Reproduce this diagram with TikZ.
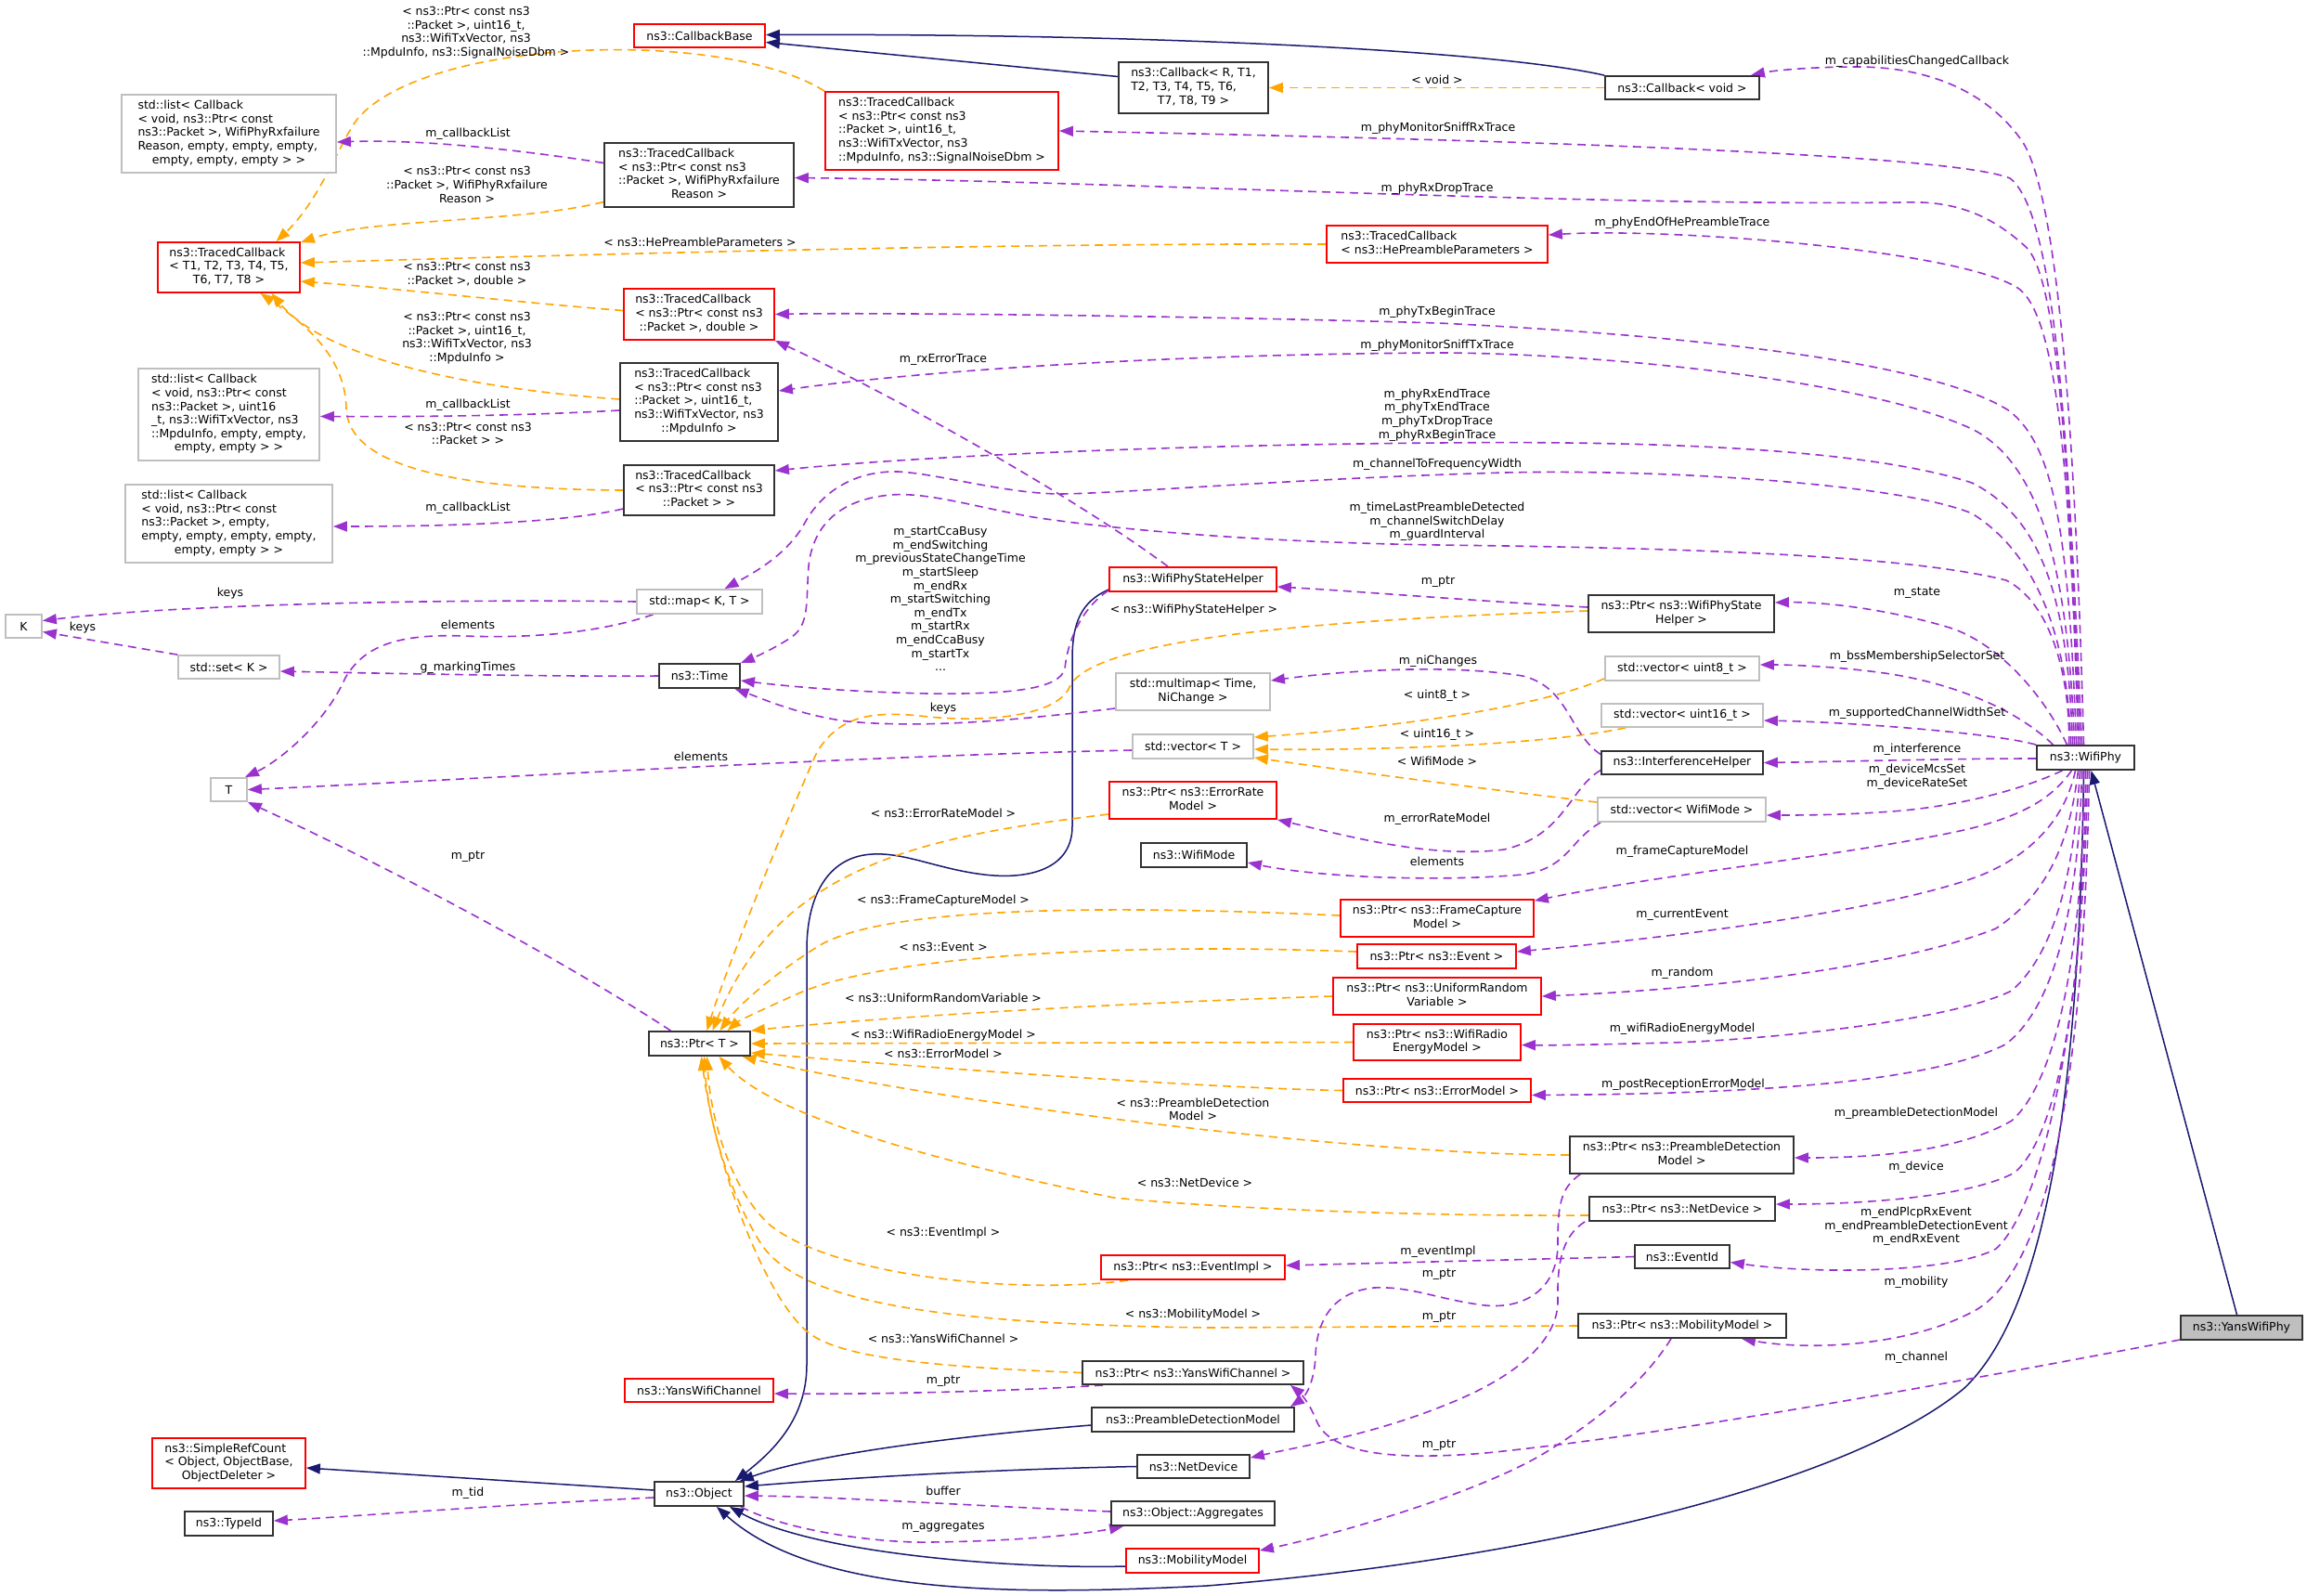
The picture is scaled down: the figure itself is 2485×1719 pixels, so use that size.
\documentclass[tikz,border=0pt]{standalone}
\usepackage{fontspec}
\setmainfont{DejaVu Sans}
\usetikzlibrary{arrows.meta}
\definecolor{usecol}{HTML}{9A32CD}
\definecolor{tmplcol}{HTML}{FFA500}
\definecolor{inhcol}{HTML}{191970}
\definecolor{boxblack}{HTML}{333333}
\definecolor{boxgray}{HTML}{BFBFBF}
\definecolor{boxred}{HTML}{FF0000}
\newcommand{\dxfont}{\fontsize{12.5pt}{14.6pt}\selectfont}
\newcommand{\nodelines}[2]{\begin{tabular}{@{}l@{}}#1\\\multicolumn{1}{@{}c@{}}{#2}\end{tabular}}
\newcommand{\mybox}[6]{\node[#1, minimum width=#2pt, minimum height=#3pt] (#4) at (#5) {#6};}
\pgfdeclarelayer{background}
\pgfdeclarelayer{edges}
\pgfsetlayers{background,edges,main}
\tikzset{
  box/.style={draw=boxblack, line width=1.8pt, fill=white, inner sep=0pt, font=\dxfont, text=black},
  redbox/.style={box, draw=boxred},
  graybox/.style={box, draw=boxgray},
  lb/.style={font=\dxfont, align=center, inner sep=0pt, text=black},
  use/.style={draw=usecol, line width=1.6pt, dash pattern=on 9pt off 6pt, -{Triangle[length=15pt,width=11pt]}},
  tmpl/.style={use, draw=tmplcol},
  inh/.style={draw=inhcol, line width=1.5pt, -{Triangle[length=15pt,width=11pt]}}
}
\begin{document}
\begin{tikzpicture}[x=1pt,y=-1pt]
\useasboundingbox (0,0) rectangle (2485,1719);
\begin{pgfonlayer}{background}
\fill[white] (0,0) rectangle (2485,1719);
\end{pgfonlayer}

% ---------- nodes ----------
\mybox{redbox}{141}{25}{cbbase}{753.5,38.5}{ns3::CallbackBase}
\mybox{box}{161}{55}{cbR}{1285.5,94.5}{\nodelines{ns3::Callback< R, T1,\\T2, T3, T4, T5, T6,}{T7, T8, T9 >}}
\mybox{box}{166}{25}{cbvoid}{1812,94.5}{ns3::Callback< void >}
\mybox{redbox}{251}{84}{tcSNR}{1014.5,141}{\nodelines{ns3::TracedCallback\\< ns3::Ptr< const ns3\\::Packet >, uint16\_t,\\ ns3::WifiTxVector, ns3}{::MpduInfo, ns3::SignalNoiseDbm >}}
\mybox{graybox}{231}{84}{listRx}{246.5,144}{\nodelines{std::list< Callback\\< void, ns3::Ptr< const\\ ns3::Packet >, WifiPhyRxfailure\\Reason, empty, empty, empty,}{empty, empty, empty > >}}
\mybox{box}{204}{69}{tcRx}{753,188.5}{\nodelines{ns3::TracedCallback\\< ns3::Ptr< const ns3\\::Packet >, WifiPhyRxfailure}{Reason >}}
\mybox{redbox}{153}{54}{tcT}{246.5,288}{\nodelines{ns3::TracedCallback\\< T1, T2, T3, T4, T5,}{T6, T7, T8 >}}
\mybox{redbox}{238}{40}{tcHe}{1548,263}{\nodelines{ns3::TracedCallback}{< ns3::HePreambleParameters >}}
\mybox{redbox}{162}{55}{tcDbl}{753,338.5}{\nodelines{ns3::TracedCallback\\< ns3::Ptr< const ns3}{::Packet >, double >}}
\mybox{box}{170}{84}{tcMpdu}{753,433}{\nodelines{ns3::TracedCallback\\< ns3::Ptr< const ns3\\::Packet >, uint16\_t,\\ ns3::WifiTxVector, ns3}{::MpduInfo >}}
\mybox{graybox}{195}{99}{listMpdu}{246.5,446.5}{\nodelines{std::list< Callback\\< void, ns3::Ptr< const\\ ns3::Packet >, uint16\\\_t, ns3::WifiTxVector, ns3\\::MpduInfo, empty, empty,}{empty, empty > >}}
\mybox{box}{162}{54}{tcPkt}{753,528}{\nodelines{ns3::TracedCallback\\< ns3::Ptr< const ns3}{::Packet > >}}
\mybox{graybox}{223}{84}{listPkt}{246.5,564}{\nodelines{std::list< Callback\\< void, ns3::Ptr< const\\ ns3::Packet >, empty,\\ empty, empty, empty, empty,}{empty, empty > >}}
\mybox{graybox}{135}{26}{map}{753.5,648}{std::map< K, T >}
\mybox{graybox}{39}{25}{K}{25.5,674.5}{K}
\mybox{graybox}{109}{25}{set}{246.5,718.5}{std::set< K >}
\mybox{box}{87}{26}{time}{753.5,728}{ns3::Time}
\mybox{graybox}{39}{25}{T}{246.5,850.5}{T}
\mybox{box}{109}{26}{ptrT}{753.5,1124}{ns3::Ptr< T >}
\mybox{redbox}{180}{26}{wpsh}{1285,624}{ns3::WifiPhyStateHelper}
\mybox{box}{200}{40}{ptrWpsh}{1811,661}{\nodelines{ns3::Ptr< ns3::WifiPhyState}{Helper >}}
\mybox{graybox}{166}{40}{multimap}{1285,745}{\nodelines{std::multimap< Time,}{NiChange >}}
\mybox{graybox}{166}{26}{vec8}{1812,720}{std::vector< uint8\_t >}
\mybox{graybox}{130}{26}{vecT}{1285,804}{std::vector< T >}
\mybox{graybox}{174}{25}{vec16}{1812,770.5}{std::vector< uint16\_t >}
\mybox{box}{174}{25}{interf}{1812,821.5}{ns3::InterferenceHelper}
\mybox{graybox}{181}{26}{vecWM}{1811.5,872}{std::vector< WifiMode >}
\mybox{redbox}{180}{40}{ptrErm}{1285,862}{\nodelines{ns3::Ptr< ns3::ErrorRate}{Model >}}
\mybox{box}{114}{26}{wifimode}{1286,921}{ns3::WifiMode}
\mybox{redbox}{208}{40}{ptrFcm}{1548,989}{\nodelines{ns3::Ptr< ns3::FrameCapture}{Model >}}
\mybox{redbox}{171}{26}{ptrEv}{1547.5,1030}{ns3::Ptr< ns3::Event >}
\mybox{redbox}{224}{40}{ptrUrv}{1548,1073}{\nodelines{ns3::Ptr< ns3::UniformRandom}{Variable >}}
\mybox{redbox}{180}{39}{ptrWre}{1548,1122.5}{\nodelines{ns3::Ptr< ns3::WifiRadio}{EnergyModel >}}
\mybox{redbox}{202}{25}{ptrEm}{1548,1174.5}{ns3::Ptr< ns3::ErrorModel >}
\mybox{box}{241}{40}{ptrPdm}{1811.5,1244}{\nodelines{ns3::Ptr< ns3::PreambleDetection}{Model >}}
\mybox{box}{200}{26}{ptrNd}{1812,1302}{ns3::Ptr< ns3::NetDevice >}
\mybox{box}{102}{25}{eventid}{1812,1353.5}{ns3::EventId}
\mybox{redbox}{198}{26}{ptrEi}{1285,1365}{ns3::Ptr< ns3::EventImpl >}
\mybox{box}{224}{26}{ptrMm}{1812,1428}{ns3::Ptr< ns3::MobilityModel >}
\mybox{box}{238}{25}{ptrYwc}{1285,1478.5}{ns3::Ptr< ns3::YansWifiChannel >}
\mybox{redbox}{160}{25}{ywc}{753,1497.5}{ns3::YansWifiChannel}
\mybox{box}{218}{26}{pdm}{1285,1529}{ns3::PreambleDetectionModel}
\mybox{box}{121}{25}{nd}{1285.5,1579.5}{ns3::NetDevice}
\mybox{box}{176}{26}{aggr}{1285,1630}{ns3::Object::Aggregates}
\mybox{redbox}{143}{26}{mm}{1284.5,1681}{ns3::MobilityModel}
\mybox{box}{96}{26}{object}{753,1609}{ns3::Object}
\mybox{redbox}{165}{54}{src}{246.5,1576}{\nodelines{ns3::SimpleRefCount\\< Object, ObjectBase,}{ObjectDeleter >}}
\mybox{box}{95}{26}{typeid}{246.5,1641}{ns3::TypeId}
\mybox{box, fill=boxgray}{131}{26}{ywp}{2414.5,1430}{ns3::YansWifiPhy}
\mybox{box}{105}{26}{wifiphy}{2246.5,816}{ns3::WifiPhy}

% ---------- edges ----------
\begin{pgfonlayer}{edges}
% inheritance
\draw[inh] ([yshift=12pt]cbR.west) -- ([yshift=-7pt]cbbase.east);
\draw[inh] (cbvoid.north west) .. controls (1600,52) and (1200,36) .. ([yshift=1pt]cbbase.east);
\draw[inh] ([yshift=-11pt]wpsh.west) .. controls (1165,648) and (1155,670) .. (1155,710) -- (1155,890) .. controls (1155,935) and (1110,948) .. (1060,942) .. controls (1010,936) and (975,918) .. (940,920) .. controls (895,922) and (870,960) .. (869,1020) -- (869,1470) .. controls (869,1530) and (830,1565) .. ([xshift=-10pt]object.north east);
\draw[inh] ([yshift=-6pt]pdm.west) .. controls (1050,1545) and (880,1565) .. ([xshift=-5pt]object.north east);
\draw[inh] (nd.west) .. controls (1050,1583) and (900,1593) .. ([yshift=8pt]object.east);
\draw[inh] ([yshift=-6pt]mm.west) .. controls (1100,1690) and (880,1675) .. ([xshift=33pt]object.south);
\draw[inh] ([xshift=-2pt]wifiphy.south) .. controls (2240,1150) and (2210,1405) .. (2116,1495) .. controls (1990,1600) and (1650,1680) .. (1300,1708) .. controls (1100,1718) and (880,1720) .. ([xshift=19pt]object.south);
\draw[inh] ([yshift=4pt]object.west) -- ([yshift=-5pt]src.east);
\draw[inh] ([xshift=-5pt]ywp.north) -- ([xshift=6pt]wifiphy.south);

% template instantiation
\draw[tmpl] (cbvoid.west) -- (cbR.east);
\draw[tmpl] (tcSNR.north west) .. controls (780,30) and (460,40) .. (385,128) .. controls (365,155) and (345,215) .. ([xshift=51pt]tcT.north);
\draw[tmpl] ([yshift=-29pt]tcRx.west) .. controls (560,240) and (400,235) .. ([yshift=-1pt]tcT.north east);
\draw[tmpl] (tcHe.west) .. controls (1100,262) and (700,272) .. ([yshift=5pt]tcT.east);
\draw[tmpl] ([yshift=4pt]tcDbl.west) .. controls (550,325) and (420,310) .. ([yshift=-15pt]tcT.east);
\draw[tmpl] ([yshift=3pt]tcMpdu.west) .. controls (500,418) and (350,385) .. ([xshift=46pt]tcT.south);
\draw[tmpl] (tcPkt.west) .. controls (500,527) and (375,505) .. (373,440) .. controls (372,385) and (330,350) .. ([xshift=34pt]tcT.south);
\draw[tmpl] ([yshift=3pt]ptrWpsh.west) .. controls (1400,668) and (1175,690) .. (1152,740) .. controls (1138,772) and (1060,778) .. (1000,772) .. controls (940,765) and (905,770) .. (880,810) .. controls (840,900) and (780,1050) .. ([xshift=8pt]ptrT.north);
\draw[tmpl] ([yshift=3pt]vec8.south west) .. controls (1650,765) and (1480,785) .. ([yshift=10pt]vecT.east);
\draw[tmpl] ([xshift=-61pt]vec16.south) .. controls (1650,805) and (1450,808) .. ([yshift=-3pt]vecT.east);
\draw[tmpl] ([yshift=8pt]vecWM.west) .. controls (1600,850) and (1450,830) .. ([yshift=-12pt]vecT.east);
\draw[tmpl] ([yshift=-15pt]ptrErm.west) .. controls (1000,900) and (840,930) .. ([xshift=14pt]ptrT.north);
\draw[tmpl] ([yshift=3pt]ptrFcm.west) .. controls (1200,975) and (950,975) .. (880,1020) .. controls (820,1058) and (790,1090) .. ([xshift=22pt]ptrT.north);
\draw[tmpl] ([yshift=5pt]ptrEv.west) .. controls (1200,1015) and (950,1030) .. (860,1070) .. controls (815,1090) and (795,1100) .. ([xshift=30pt]ptrT.north);
\draw[tmpl] (ptrUrv.west) .. controls (1150,1082) and (900,1100) .. (ptrT.north east);
\draw[tmpl] (ptrWre.west) -- (ptrT.east);
\draw[tmpl] (ptrEm.west) .. controls (1300,1172) and (1000,1150) .. ([yshift=-10pt]ptrT.east);
\draw[tmpl] (ptrPdm.west) .. controls (1450,1244) and (1000,1185) .. ([xshift=46pt]ptrT.south);
\draw[tmpl] ([yshift=-7pt]ptrNd.west) .. controls (1500,1310) and (1300,1300) .. (1200,1290) .. controls (1000,1250) and (830,1200) .. ([xshift=21pt]ptrT.south);
\draw[tmpl] ([xshift=-70pt]ptrEi.south) .. controls (1100,1395) and (900,1375) .. (830,1320) .. controls (785,1280) and (765,1200) .. ([xshift=8pt]ptrT.south);
\draw[tmpl] (ptrMm.west) -- (1300,1430) .. controls (1000,1426) and (860,1400) .. (820,1340) .. controls (782,1280) and (762,1200) .. ([xshift=5pt]ptrT.south);
\draw[tmpl] (ptrYwc.west) .. controls (1000,1472) and (900,1462) .. (868,1433) .. controls (820,1390) and (770,1250) .. ([xshift=2pt]ptrT.south);

% usage from WifiPhy (upwards)
\draw[use] ([xshift=-2pt]wifiphy.north) .. controls (2235,450) and (2215,200) .. (2176,149) .. controls (2140,100) and (2080,72) .. (2000,72) .. controls (1950,72) and (1910,76) .. ([xshift=-10pt]cbvoid.north east);
\draw[use] ([xshift=-4pt]wifiphy.north) .. controls (2228,480) and (2215,230) .. (2165,192) .. controls (2100,165) and (1600,150) .. (tcSNR.east);
\draw[use] ([xshift=-6pt]wifiphy.north) .. controls (2228,480) and (2215,290) .. (2180,264) .. controls (2140,228) and (2100,216) .. (2050,218) .. controls (1700,222) and (1200,195) .. ([yshift=-3pt]tcRx.east);
\draw[use] ([xshift=-8pt]wifiphy.north) .. controls (2230,500) and (2215,345) .. (2176,312) .. controls (2120,270) and (1800,245) .. ([yshift=10pt]tcHe.east);
\draw[use] ([xshift=-10pt]wifiphy.north) .. controls (2228,560) and (2210,480) .. (2165,443) .. controls (2100,400) and (1900,365) .. (1550,348) .. controls (1200,338) and (900,337) .. (tcDbl.east);
\draw[use] ([xshift=-12pt]wifiphy.north) .. controls (2228,620) and (2200,500) .. (2124,462) .. controls (2000,405) and (1700,380) .. (1550,380) .. controls (1200,382) and (950,405) .. ([yshift=12pt]tcMpdu.east);
\draw[use] ([xshift=-14pt]wifiphy.north) .. controls (2228,660) and (2205,560) .. (2124,520) .. controls (2000,480) and (1750,475) .. (1550,477) .. controls (1200,480) and (950,495) .. ([yshift=21pt]tcPkt.east);
\draw[use] ([xshift=-16pt]wifiphy.north) .. controls (2228,700) and (2200,600) .. (2124,553) .. controls (2050,522) and (1800,505) .. (1622,509) .. controls (1400,515) and (1200,532) .. (1140,532) .. controls (1080,531) and (1010,510) .. (967,508) .. controls (920,507) and (885,530) .. (867,563) .. controls (848,598) and (810,618) .. ([xshift=27pt]map.north);
\draw[use] ([xshift=-18pt]wifiphy.north) .. controls (2230,730) and (2210,650) .. (2161,625) .. controls (2050,597) and (1800,590) .. (1550,587) .. controls (1350,584) and (1200,570) .. (1113,557) .. controls (1050,546) and (1000,530) .. (960,533) .. controls (900,538) and (875,570) .. (871,610) .. controls (868,650) and (872,672) .. (853,686) .. controls (835,698) and (815,707) .. (time.north east);
\draw[use] ([xshift=-20pt]wifiphy.north) .. controls (2200,745) and (2150,692) .. (2100,676) .. controls (2030,655) and (1960,648) .. ([yshift=12pt]ptrWpsh.east);
\draw[use] ([xshift=-35pt]wifiphy.north) .. controls (2170,762) and (2100,735) .. (2030,725) .. controls (1980,718) and (1930,716) .. ([yshift=4pt]vec8.east);
\draw[use] (wifiphy.north west) .. controls (2150,790) and (2000,778) .. ([yshift=-5.5pt]vec16.east);
\draw[use] ([yshift=-1pt]wifiphy.west) .. controls (2100,817) and (2000,820) .. (interf.east);
% usage from WifiPhy (downwards)
\draw[use] ([xshift=-25pt]wifiphy.south) .. controls (2190,845) and (2130,865) .. (2050,873) .. controls (1990,878) and (1940,878) .. ([yshift=-6pt]vecWM.east);
\draw[use] ([xshift=-15pt]wifiphy.south) .. controls (2210,860) and (2180,878) .. (2120,893) .. controls (2000,920) and (1800,940) .. ([yshift=-2pt]ptrFcm.north east);
\draw[use] ([xshift=-11pt]wifiphy.south) .. controls (2225,880) and (2190,920) .. (2133,943) .. controls (2050,975) and (1850,1005) .. ([yshift=5pt]ptrEv.east);
\draw[use] ([xshift=-8pt]wifiphy.south) .. controls (2230,900) and (2210,960) .. (2150,1000) .. controls (2050,1040) and (1850,1065) .. (ptrUrv.east);
\draw[use] ([xshift=-6pt]wifiphy.south) .. controls (2235,920) and (2220,1020) .. (2167,1067) .. controls (2100,1100) and (1900,1120) .. (1800,1123) .. controls (1720,1125) and (1680,1126) .. ([yshift=-3pt]ptrWre.east);
\draw[use] ([xshift=-4pt]wifiphy.south) .. controls (2240,950) and (2220,1080) .. (2160,1125) .. controls (2080,1165) and (1900,1178) .. ([yshift=-5pt]ptrEm.east);
\draw[use] ([xshift=-2pt]wifiphy.south) .. controls (2245,1000) and (2220,1160) .. (2167,1207) .. controls (2110,1240) and (2020,1247) .. ([yshift=-3pt]ptrPdm.east);
\draw[use] (wifiphy.south) .. controls (2245,1050) and (2220,1220) .. (2170,1263) .. controls (2120,1290) and (2000,1297) .. ([yshift=5pt]ptrNd.east);
\draw[use] ([xshift=2pt]wifiphy.south) .. controls (2245,1100) and (2200,1300) .. (2150,1345) .. controls (2100,1372) and (1950,1372) .. ([yshift=-6pt]eventid.east);
\draw[use] ([xshift=4pt]wifiphy.south) .. controls (2245,1150) and (2210,1360) .. (2130,1410) .. controls (2060,1450) and (1950,1455) .. ([xshift=64pt]ptrMm.south);
% other usage
\draw[use] ([yshift=-13pt]ywp.west) .. controls (2100,1490) and (1800,1545) .. (1600,1565) .. controls (1480,1575) and (1430,1560) .. (1418,1530) .. controls (1410,1510) and (1400,1500) .. ([xshift=105pt]ptrYwc.south);
\draw[use] ([xshift=-27pt]wpsh.north) .. controls (1150,530) and (950,420) .. (tcDbl.south east);
\draw[use] ([yshift=-12pt]wpsh.west) .. controls (1165,655) and (1150,690) .. (1147,720) .. controls (1142,742) and (1090,748) .. (1000,747) .. controls (900,745) and (830,737) .. ([yshift=-5pt]time.east);
\draw[use] ([yshift=7pt]ptrWpsh.west) .. controls (1600,648) and (1450,636) .. ([yshift=-8pt]wpsh.east);
\draw[use] ([yshift=9pt]interf.west) .. controls (1690,790) and (1690,740) .. (1640,728) .. controls (1560,715) and (1450,722) .. ([yshift=12pt]multimap.east);
\draw[use] ([yshift=-8pt]interf.west) .. controls (1690,850) and (1685,900) .. (1620,915) .. controls (1540,925) and (1450,900) .. (ptrErm.south east);
\draw[use] ([xshift=4pt]vecWM.south west) .. controls (1690,905) and (1690,935) .. (1640,942) .. controls (1550,950) and (1420,945) .. ([yshift=-8pt]wifimode.east);
\draw[use] ([yshift=-18pt]multimap.west) .. controls (1100,775) and (1000,785) .. (913,777) .. controls (860,770) and (820,752) .. ([xshift=38pt]time.south);
\draw[use] ([yshift=-4pt]vecT.west) .. controls (900,815) and (500,840) .. (T.east);
\draw[use] (map.west) .. controls (500,645) and (200,650) .. ([yshift=6pt]K.east);
\draw[use] ([xshift=-50pt]map.south) .. controls (650,680) and (580,688) .. (500,685) .. controls (420,682) and (390,700) .. (372,730) .. controls (350,780) and (300,820) .. ([xshift=-3pt]T.north east);
\draw[use] (set.north west) -- ([yshift=-6pt]K.east);
\draw[use] (time.west) .. controls (600,729) and (400,725) .. ([yshift=-4.5pt]set.east);
\draw[use] ([xshift=-31pt]ptrT.north) .. controls (600,1030) and (420,935) .. (T.south east);
\draw[use] ([yshift=13pt]tcRx.west) .. controls (550,160) and (450,150) .. ([yshift=-9pt]listRx.east);
\draw[use] ([yshift=-9pt]tcMpdu.west) .. controls (560,448) and (450,449) .. ([yshift=-2pt]listMpdu.east);
\draw[use] ([yshift=-20pt]tcPkt.west) .. controls (600,565) and (450,567) .. ([yshift=-3pt]listPkt.east);
\draw[use] (eventid.west) -- ([yshift=2pt]ptrEi.east);
\draw[use] ([xshift=12pt]ptrPdm.south west) .. controls (1680,1280) and (1678,1300) .. (1678,1340) .. controls (1678,1390) and (1640,1410) .. (1600,1406) .. controls (1550,1400) and (1520,1385) .. (1480,1387) .. controls (1430,1392) and (1418,1430) .. (1417,1460) .. controls (1416,1490) and (1405,1505) .. ([xshift=105pt]pdm.north);
\draw[use] ([xshift=-4pt]ptrNd.south west) .. controls (1685,1330) and (1677,1355) .. (1678,1400) .. controls (1679,1440) and (1640,1480) .. (1560,1512) .. controls (1480,1545) and (1400,1558) .. ([yshift=9.5pt]nd.east);
\draw[use] ([xshift=-12pt]ptrMm.south) .. controls (1770,1490) and (1720,1530) .. (1667,1563) .. controls (1600,1605) and (1450,1650) .. ([yshift=11pt]mm.east);
\draw[use] ([xshift=-97pt]ptrYwc.south) .. controls (1100,1498) and (950,1502) .. ([yshift=-3.5pt]ywc.east);
\draw[use] ([yshift=-4pt]object.west) .. controls (550,1620) and (400,1632) .. ([yshift=3pt]typeid.east);
\draw[use] ([yshift=2pt]aggr.west) .. controls (1050,1622) and (900,1612) .. ([yshift=-2pt]object.east);
\draw[use] ([xshift=-4pt]object.south east) .. controls (850,1650) and (950,1662) .. (1000,1661) .. controls (1100,1660) and (1170,1652) .. ([xshift=14pt]aggr.south west);
\end{pgfonlayer}

% ---------- edge labels ----------
\node[lb] (l01) at (1548,86) {< void >};
\node[lb] (l02) at (2065,66) {m\_capabilitiesChangedCallback};
\node[lb] (l03) at (1549,138.6) {m\_phyMonitorSniffRxTrace};
\node[lb] (l04) at (1548,203) {m\_phyRxDropTrace};
\node[lb] (l05) at (1812,240) {m\_phyEndOfHePreambleTrace};
\node[lb] (l06) at (1548,336) {m\_phyTxBeginTrace};
\node[lb] (l07) at (1548,372) {m\_phyMonitorSniffTxTrace};
\node[lb] (l08) at (1548,447) {m\_phyRxEndTrace\\m\_phyTxEndTrace\\m\_phyTxDropTrace\\m\_phyRxBeginTrace};
\node[lb] (l09) at (1548,500.7) {m\_channelToFrequencyWidth};
\node[lb] (l10) at (1548,562) {m\_timeLastPreambleDetected\\m\_channelSwitchDelay\\m\_guardInterval};
\node[lb] (l11) at (1016,387) {m\_rxErrorTrace};
\node[lb] (l12) at (1013,645) {m\_startCcaBusy\\m\_endSwitching\\m\_previousStateChangeTime\\m\_startSleep\\m\_endRx\\m\_startSwitching\\m\_endTx\\m\_startRx\\m\_endCcaBusy\\m\_startTx\\...};
\node[lb] (l13) at (2065,639) {m\_state};
\node[lb] (l14) at (2065,707) {m\_bssMembershipSelectorSet};
\node[lb] (l15) at (2065,768) {m\_supportedChannelWidthSet};
\node[lb] (l16) at (2065,807) {m\_interference};
\node[lb] (l17) at (2065,837) {m\_deviceMcsSet\\m\_deviceRateSet};
\node[lb] (l18) at (1549,627) {m\_ptr};
\node[lb] (l19) at (1286,657) {< ns3::WifiPhyStateHelper >};
\node[lb] (l20) at (1549,712) {m\_niChanges};
\node[lb] (l21) at (1548,749) {< uint8\_t >};
\node[lb] (l22) at (1548,791.5) {< uint16\_t >};
\node[lb] (l23) at (1548,819.5) {< WifiMode >};
\node[lb] (l24) at (1548,882.5) {m\_errorRateModel};
\node[lb] (l25) at (1548,927.7) {elements};
\node[lb] (l26) at (1016,763) {keys};
\node[lb] (l27) at (1016,876) {< ns3::ErrorRateModel >};
\node[lb] (l28) at (1812,917) {m\_frameCaptureModel};
\node[lb] (l29) at (1016,970.5) {< ns3::FrameCaptureModel >};
\node[lb] (l30) at (1812,985) {m\_currentEvent};
\node[lb] (l31) at (1016,1019.6) {< ns3::Event >};
\node[lb] (l32) at (1812,1048) {m\_random};
\node[lb] (l33) at (1016,1075) {< ns3::UniformRandomVariable >};
\node[lb] (l34) at (1812,1108) {m\_wifiRadioEnergyModel};
\node[lb] (l35) at (1016,1114.6) {< ns3::WifiRadioEnergyModel >};
\node[lb] (l36) at (1016,1134.7) {< ns3::ErrorModel >};
\node[lb] (l37) at (1813,1168) {m\_postReceptionErrorModel};
\node[lb] (l38) at (1285,1195) {< ns3::PreambleDetection\\Model >};
\node[lb] (l39) at (2064,1199.5) {m\_preambleDetectionModel};
\node[lb] (l40) at (2064,1257) {m\_device};
\node[lb] (l41) at (1287,1274) {< ns3::NetDevice >};
\node[lb] (l42) at (2064,1321) {m\_endPlcpRxEvent\\m\_endPreambleDetectionEvent\\m\_endRxEvent};
\node[lb] (l43) at (1016,1328) {< ns3::EventImpl >};
\node[lb] (l44) at (1549,1348) {m\_eventImpl};
\node[lb] (l45) at (1285,1416) {< ns3::MobilityModel >};
\node[lb] (l46) at (1550,1373) {m\_ptr};
\node[lb] (l47) at (2064,1381) {m\_mobility};
\node[lb] (l48) at (1550,1419) {m\_ptr};
\node[lb] (l49) at (1016,1442) {< ns3::YansWifiChannel >};
\node[lb] (l50) at (2064,1462) {m\_channel};
\node[lb] (l51) at (1016,1488) {m\_ptr};
\node[lb] (l52) at (1550,1557) {m\_ptr};
\node[lb] (l53) at (1016,1606) {buffer};
\node[lb] (l54) at (1016,1645) {m\_aggregates};
\node[lb] (l55) at (504,1608.5) {m\_tid};
\node[lb] (l56) at (504,144) {m\_callbackList};
\node[lb] (l57) at (504,436) {m\_callbackList};
\node[lb] (l58) at (504,547) {m\_callbackList};
\node[lb] (l59) at (502,35) {< ns3::Ptr< const ns3\\::Packet >, uint16\_t,\\ns3::WifiTxVector, ns3\\::MpduInfo, ns3::SignalNoiseDbm >};
\node[lb] (l60) at (503,199) {< ns3::Ptr< const ns3\\::Packet >, WifiPhyRxfailure\\Reason >};
\node[lb] (l61) at (754,261) {< ns3::HePreambleParameters >};
\node[lb] (l62) at (503,295) {< ns3::Ptr< const ns3\\::Packet >, double >};
\node[lb] (l63) at (503,364) {< ns3::Ptr< const ns3\\::Packet >, uint16\_t,\\ns3::WifiTxVector, ns3\\::MpduInfo >};
\node[lb] (l64) at (504,467) {< ns3::Ptr< const ns3\\::Packet > >};
\node[lb] (l65) at (248,639.5) {keys};
\node[lb] (l66) at (504,673) {elements};
\node[lb] (l67) at (89,676) {keys};
\node[lb] (l68) at (504,719) {g\_markingTimes};
\node[lb] (l69) at (755,815) {elements};
\node[lb] (l70) at (504,923) {m\_ptr};
\end{tikzpicture}
\end{document}
